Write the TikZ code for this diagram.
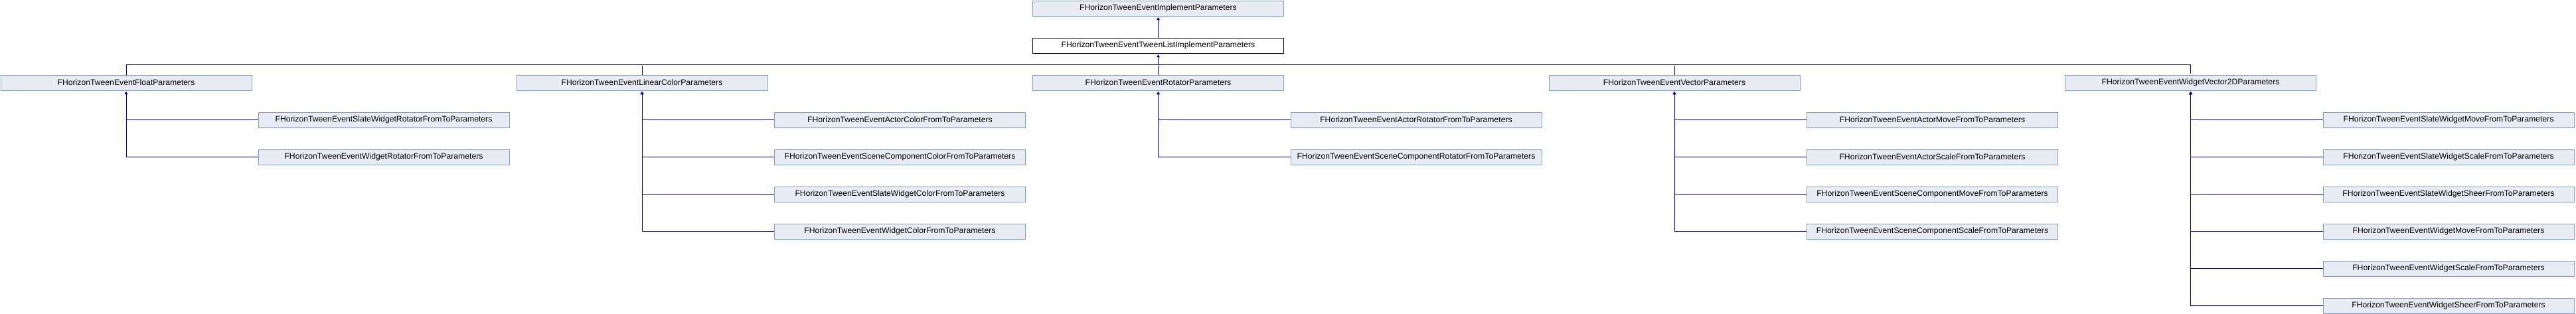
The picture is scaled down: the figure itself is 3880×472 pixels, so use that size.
\documentclass[tikz,border=0pt]{standalone}
\usepackage{fontspec}
\setmainfont{Liberation Sans}
\usetikzlibrary{arrows.meta, calc}

\definecolor{clsfill}{RGB}{232,236,244}
\definecolor{clsline}{RGB}{132,155,201}
\definecolor{inhline}{RGB}{0,0,128}

\begin{document}
\begin{tikzpicture}[x=1pt, y=-1pt, >={Triangle[length=4pt, width=4.5pt]},
    cls/.style={draw=clsline, fill=clsfill, line width=1pt, anchor=north west,
      minimum width=378pt, minimum height=23pt, inner sep=0pt,
      font=\fontsize{12.2}{14}\selectfont},
    curcls/.style={cls, draw=black, fill=white},
    inh/.style={draw=inhline, line width=1pt, shorten >=1.5pt}]

  \useasboundingbox (0,0) rectangle (3880,472);

  % --- Base classes ---
  \node[cls] (impl) at (1555,0.5) {FHorizonTweenEventImplementParameters};
  \node[curcls] (list) at (1555,56.5) {FHorizonTweenEventTweenListImplementParameters};
  \coordinate (bus) at ($(list.south)+(0,17)$);

  % --- Direct subclasses (level 1) ---
  \node[cls] (float) at (0.5,112.5) {FHorizonTweenEventFloatParameters};
  \node[cls] (linear) at (777.5,112.5) {FHorizonTweenEventLinearColorParameters};
  \node[cls] (rotator) at (1555,112.5) {FHorizonTweenEventRotatorParameters};
  \node[cls] (vector) at (2332.5,112.5) {FHorizonTweenEventVectorParameters};
  \node[cls] (widget) at (3110,112.5) {FHorizonTweenEventWidgetVector2DParameters};

  % --- Leaf classes ---
  \foreach \n/\k/\t in {
      fslate/0/SlateWidgetRotator, fwidget/1/WidgetRotator} {
    \node[cls] (\n) at (388.5,168.5+56*\k) {FHorizonTweenEvent\t FromToParameters};
  }
  \foreach \n/\k/\t in {
      lactor/0/ActorColor, lscene/1/SceneComponentColor,
      lslate/2/SlateWidgetColor, lwidget/3/WidgetColor} {
    \node[cls] (\n) at (1166,168.5+56*\k) {FHorizonTweenEvent\t FromToParameters};
  }
  \foreach \n/\k/\t in {
      ractor/0/ActorRotator, rscene/1/SceneComponentRotator} {
    \node[cls] (\n) at (1943.5,168.5+56*\k) {FHorizonTweenEvent\t FromToParameters};
  }
  \foreach \n/\k/\t in {
      vamove/0/ActorMove, vascale/1/ActorScale,
      vsmove/2/SceneComponentMove, vsscale/3/SceneComponentScale} {
    \node[cls] (\n) at (2721,168.5+56*\k) {FHorizonTweenEvent\t FromToParameters};
  }
  \foreach \n/\k/\t in {
      wsmove/0/SlateWidgetMove, wsscale/1/SlateWidgetScale,
      wssheer/2/SlateWidgetSheer, wwmove/3/WidgetMove,
      wwscale/4/WidgetScale, wwsheer/5/WidgetSheer} {
    \node[cls] (\n) at (3498.5,168.5+56*\k) {FHorizonTweenEvent\t FromToParameters};
  }

  % --- Inheritance connectors ---
  \draw[inh, ->] (list.north) -- (impl.south);
  \draw[inh, ->] (bus) -- (list.south);
  \draw[inh] (float.north) |- (bus) -| (widget.north);
  \foreach \n in {linear, rotator, vector}
    \draw[inh] (\n.north) -- (\n.north |- bus);

  \foreach \c in {fslate, fwidget}
    \draw[inh, ->] (\c.west) -| (float.south);
  \foreach \c in {lactor, lscene, lslate, lwidget}
    \draw[inh, ->] (\c.west) -| (linear.south);
  \foreach \c in {ractor, rscene}
    \draw[inh, ->] (\c.west) -| (rotator.south);
  \foreach \c in {vamove, vascale, vsmove, vsscale}
    \draw[inh, ->] (\c.west) -| (vector.south);
  \foreach \c in {wsmove, wsscale, wssheer, wwmove, wwscale, wwsheer}
    \draw[inh, ->] (\c.west) -| (widget.south);

\end{tikzpicture}
\end{document}
